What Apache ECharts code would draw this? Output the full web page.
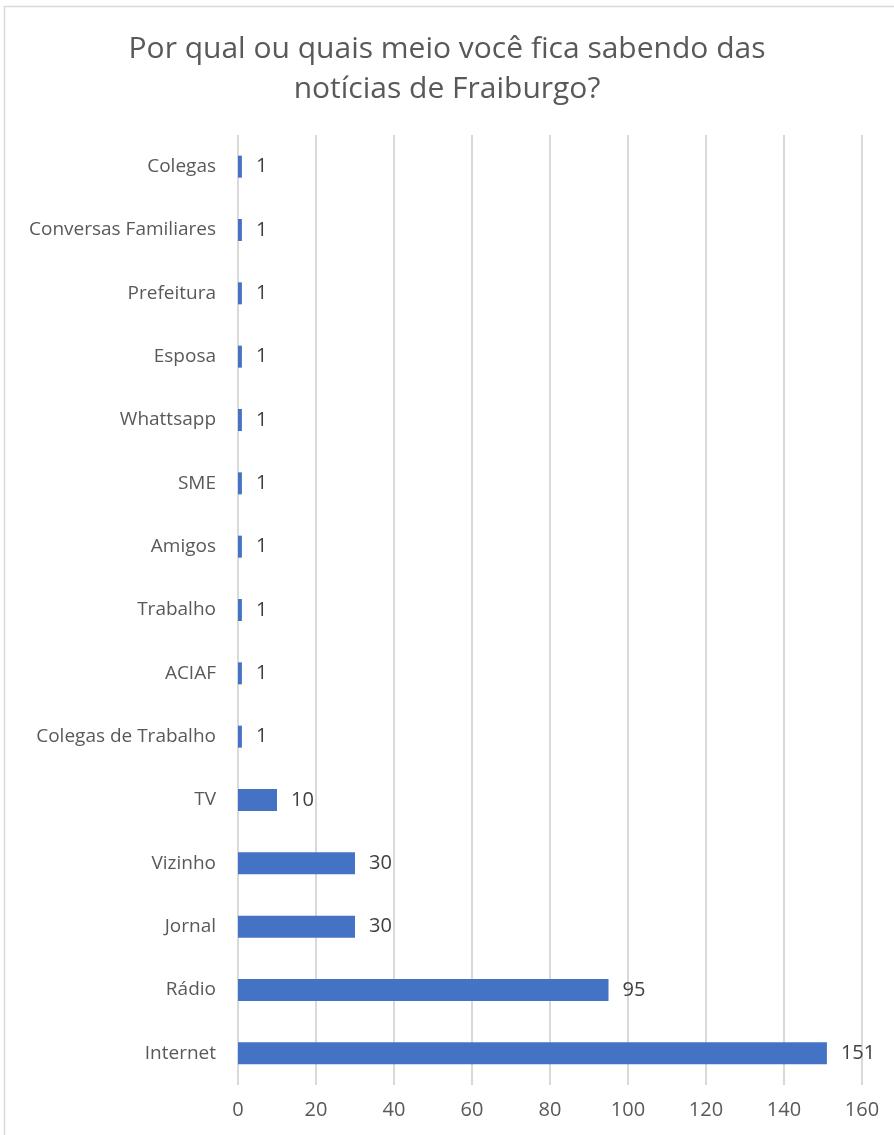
<!DOCTYPE html>
<html>
<head>
<meta charset="utf-8">
<script src="https://cdn.jsdelivr.net/npm/echarts@6/dist/echarts.min.js"></script>
<style>
  html, body { margin: 0; padding: 0; background: #fff; }
  #chart { width: 894px; height: 1135px; }
</style>
</head>
<body>
<div id="chart"></div>
<script>
// bottom to top, as on the axis
const categories = [
  "Internet", "Rádio", "Jornal", "Vizinho", "TV", "Colegas de Trabalho",
  "ACIAF", "Trabalho", "Amigos", "SME", "Whattsapp", "Esposa",
  "Prefeitura", "Conversas Familiares", "Colegas"
];
const values = [151, 95, 30, 30, 10, 1, 1, 1, 1, 1, 1, 1, 1, 1, 1];
const xTicks = [0, 20, 40, 60, 80, 100, 120, 140, 160];

const font = "'Open Sans', sans-serif";
const chart = echarts.init(document.getElementById("chart"), null, { renderer: "canvas" });

chart.setOption({
  backgroundColor: "#fff",
  animation: false,
  graphic: [{
    type: "rect",
    shape: { x: 4.5, y: 6.5, width: 900, height: 1140 },
    style: { fill: "none", stroke: "#d9d9d9", lineWidth: 1.5 }
  }],
  title: {
    text: "Por qual ou quais meio você fica sabendo das\nnotícias de Fraiburgo?",
    left: "center",
    top: 24,
    textStyle: {
      fontFamily: font,
      fontSize: 30,
      fontWeight: "normal",
      color: "#595959",
      lineHeight: 40
    }
  },
  grid: { left: 238, right: 32, top: 135, bottom: 50, containLabel: false },
  xAxis: {
    type: "value",
    min: xTicks[0],
    max: xTicks[xTicks.length - 1],
    interval: 20,
    axisLine: { show: false },
    axisTick: { show: false },
    axisLabel: { color: "#595959", fontSize: 20, fontFamily: font, margin: 15 },
    splitLine: { lineStyle: { color: "#d9d9d9", width: 2 } }
  },
  yAxis: {
    type: "category",
    data: categories,
    axisLine: { show: false },
    axisTick: { show: false },
    axisLabel: { color: "#595959", fontSize: 19, fontFamily: font, margin: 22 }
  },
  series: [{
    type: "bar",
    data: values,
    barWidth: 22,
    itemStyle: { color: "#4472c4" },
    label: {
      show: true,
      position: "right",
      distance: 14,
      color: "#404040",
      fontSize: 20,
      fontFamily: font
    }
  }]
});
</script>
</body>
</html>
